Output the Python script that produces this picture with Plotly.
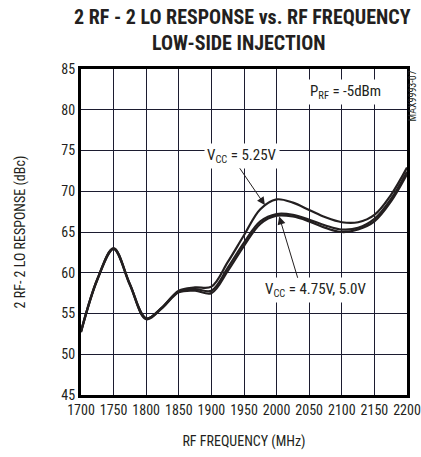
import plotly.graph_objects as go

freq = [1700, 1725, 1750, 1775, 1800, 1825, 1850, 1875, 1900, 1925, 1950, 1975,
        2000, 2025, 2050, 2075, 2100, 2125, 2150, 2175, 2200]
vcc_525 = [52.8, 59.2, 63.0, 58.6, 54.4, 55.8, 57.8, 58.2, 58.3, 61.3, 64.6, 67.8,
           69.0, 68.6, 67.7, 66.8, 66.2, 66.2, 67.1, 69.5, 72.9]
vcc_500 = [52.8, 59.2, 63.0, 58.6, 54.4, 55.8, 57.7, 58.0, 57.8, 60.6, 63.7, 66.3,
           67.2, 67.1, 66.5, 65.8, 65.3, 65.5, 66.6, 69.0, 72.4]
vcc_475 = [52.7, 59.1, 62.9, 58.5, 54.3, 55.7, 57.6, 57.8, 57.5, 60.2, 63.3, 66.0,
           67.0, 66.9, 66.3, 65.5, 65.0, 65.3, 66.3, 68.7, 72.1]

x_ticks = [1700, 1750, 1800, 1850, 1900, 1950, 2000, 2050, 2100, 2150, 2200]
y_ticks = [45, 50, 55, 60, 65, 70, 75, 80, 85]

FONT = "Liberation Sans Narrow, Roboto Condensed, DejaVu Sans Condensed, Arial Narrow, sans-serif"
INK = "#231f20"
GRID = "rgb(28,28,48)"

fig = go.Figure()

for name, ys in [("VCC = 4.75V", vcc_475), ("VCC = 5.0V", vcc_500), ("VCC = 5.25V", vcc_525)]:
    fig.add_trace(go.Scatter(x=freq, y=ys, mode="lines", name=name,
                             line=dict(color=INK, width=2.2, shape="spline", smoothing=1.0),
                             showlegend=False, hoverinfo="skip"))

fig.update_layout(template="none")

fig.update_xaxes(range=[1700, 2200], tickmode="array", tickvals=x_ticks,
                 ticktext=[str(t) for t in x_ticks],
                 showgrid=True, gridcolor=GRID, gridwidth=1.2,
                 showline=True, linecolor="black", linewidth=3, mirror=True, zeroline=False,
                 automargin=False, ticks="",
                 tickfont=dict(family=FONT, size=14, color=INK),
                 title=dict(text="RF FREQUENCY (MHz)", font=dict(family=FONT, size=14, color=INK),
                            standoff=20))
fig.update_yaxes(range=[45, 85], tickmode="array", tickvals=y_ticks,
                 ticktext=[str(t) for t in y_ticks],
                 showgrid=True, gridcolor=GRID, gridwidth=1.2,
                 showline=True, linecolor="black", linewidth=3, mirror=True, zeroline=False,
                 automargin=False, ticks="",
                 tickfont=dict(family=FONT, size=14, color=INK),
                 title=dict(text="2 RF- 2 LO RESPONSE (dBc)", font=dict(family=FONT, size=14, color=INK),
                            standoff=33))

annots = [
    dict(x=1947, y=74.3, text="V<sub>CC</sub> = 5.25V", showarrow=False,
         bgcolor="white", borderpad=2),
    dict(x=2060, y=57.9, text="V<sub>CC</sub> = 4.75V, 5.0V", showarrow=False,
         bgcolor="white", borderpad=2),
    dict(x=2105, y=82.2, text="P<sub>RF</sub> = -5dBm", showarrow=False,
         bgcolor="white", borderpad=2),
]
for a in annots:
    a.update(xref="x", yref="y", font=dict(family=FONT, size=15, color=INK))
    fig.add_annotation(**a)

fig.add_annotation(x=1982, y=68.3, ax=1942, ay=73.0, xref="x", yref="y", axref="x", ayref="y",
                   text="", showarrow=True, arrowhead=2, arrowsize=1.6, arrowwidth=1, arrowcolor=INK)
fig.add_annotation(x=2004, y=66.9, ax=2033, ay=59.2, xref="x", yref="y", axref="x", ayref="y",
                   text="", showarrow=True, arrowhead=2, arrowsize=1.6, arrowwidth=1, arrowcolor=INK)

fig.add_annotation(x=1.018, y=1.003, xref="paper", yref="paper", text="MAX9993-07", textangle=-90,
                   showarrow=False, xanchor="center", yanchor="top",
                   font=dict(family=FONT, size=10, color=INK))

fig.add_annotation(x=0.494, y=1.16, xref="paper", yref="paper", yanchor="middle",
                   text="<b>2 RF - 2 LO RESPONSE vs. RF FREQUENCY</b>",
                   showarrow=False, font=dict(family=FONT, size=20, color=INK))
fig.add_annotation(x=0.485, y=1.08, xref="paper", yref="paper", yanchor="middle",
                   text="<b>LOW-SIDE INJECTION</b>",
                   showarrow=False, font=dict(family=FONT, size=20, color=INK))

fig.update_layout(
    width=421, height=457,
    margin=dict(l=81, r=14, t=69, b=62),
    paper_bgcolor="white", plot_bgcolor="white",
)

fig.write_html("out.html", config={"displayModeBar": False},
               post_script="document.body.style.margin='0px';")
